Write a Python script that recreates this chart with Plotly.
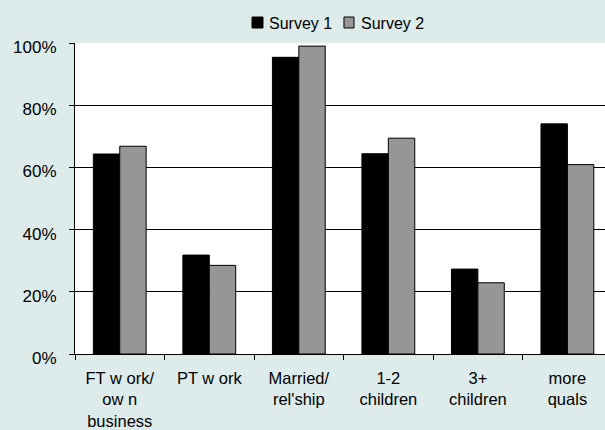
import plotly.graph_objects as go

# Category labels (line breaks as shown on the axis)
categories = [
    "FT w ork/<br>ow n<br>business",
    "PT w ork",
    "Married/<br>rel'ship",
    "1-2<br>children",
    "3+<br>children",
    "more<br>quals",
]

# Share of respondents (%) for each survey
survey1 = [64.3, 31.8, 95.4, 64.4, 27.3, 74.0]
survey2 = [66.8, 28.5, 99.0, 69.4, 22.9, 60.9]

series_names = ["Survey 1", "Survey 2"]
series_colors = ["#000000", "#969696"]

y_ticks = [0, 20, 40, 60, 80, 100]
y_tick_text = [f"{v}%" for v in y_ticks]

BG = "#DDECEB"
FONT = "Liberation Sans, Arial, sans-serif"

fig = go.Figure()
for name, values, color in zip(series_names, [survey1, survey2], series_colors):
    fig.add_bar(
        name=name, x=categories, y=values,
        marker=dict(color=color, line=dict(color="#000000", width=1)),
    )

fig.update_layout(
    width=605, height=430,
    margin=dict(l=75, r=0, t=43, b=76, pad=0),
    paper_bgcolor=BG,
    plot_bgcolor="#FFFFFF",
    barmode="group",
    bargap=0.41,
    bargroupgap=0,
    font=dict(family=FONT, size=16, color="#000000"),
    showlegend=False,
)

# Compact legend above the plot: outlined square swatch followed by the label
legend_swatches = [(0.334, 0.3547), (0.5075, 0.5264)]
legend_text_x = [0.3642, 0.5377]
for (x0, x1), tx, name, color in zip(legend_swatches, legend_text_x,
                                     series_names, series_colors):
    fig.add_shape(
        type="rect", xref="paper", yref="paper",
        x0=x0, x1=x1, y0=1.0482, y1=1.0836,
        fillcolor=color, line=dict(color="#000000", width=1),
    )
    fig.add_annotation(
        xref="paper", yref="paper", x=tx, y=1.0643,
        xanchor="left", yanchor="middle", showarrow=False,
        text=name, font=dict(family=FONT, size=16, color="#000000"),
        borderpad=0,
    )

fig.update_xaxes(
    type="category",
    range=[-0.5, 5.42],
    showline=True, linecolor="#000000", linewidth=1,
    ticks="outside", tickson="boundaries", ticklen=5, tickcolor="#000000",
    showgrid=False, zeroline=False,
    ticklabelstandoff=9,
    tickfont=dict(family=FONT, size=16.5),
)
fig.update_yaxes(
    range=[0, 100],
    tickvals=y_ticks, ticktext=y_tick_text,
    showline=True, linecolor="#000000", linewidth=1,
    ticks="outside", ticklen=5, tickcolor="#000000",
    showgrid=True, gridcolor="#000000", gridwidth=1,
    zeroline=False,
    ticklabelstandoff=9,
    ticklabelshift=4,
    tickfont=dict(family=FONT, size=17),
)

fig.write_html("out.html")
